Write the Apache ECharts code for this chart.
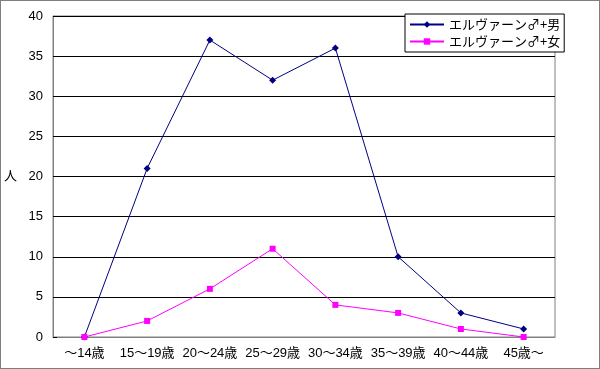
<!DOCTYPE html>
<html><head><meta charset="utf-8">
<script src="https://cdn.jsdelivr.net/npm/echarts@6/dist/echarts.min.js"></script>
<style>html,body{margin:0;padding:0;background:#fff}#c{width:600px;height:369px;box-sizing:border-box;border:1px solid #7f7f7f}</style>
</head><body><div id="c"></div>
<script>
const categories = ['～14歳','15～19歳','20～24歳','25～29歳','30～34歳','35～39歳','40～44歳','45歳～'];
const male = [0,21,37,32,36,10,3,1];
const female = [0,2,6,11,4,3,1,0];
const yTicks = [0,5,10,15,20,25,30,35,40];
const seriesNames = ['エルヴァーン♂+男','エルヴァーン♂+女'];
const FONT = "'Liberation Sans','Noto Sans CJK JP',sans-serif";
const chart = echarts.init(document.getElementById('c'));
chart.setOption({
  animation:false,
  grid:{left:52,top:15,right:44,bottom:31,show:true,borderColor:'#808080',borderWidth:1},
  legend:{
    orient:'vertical', left:404, top:13, padding:[4,4,4,4], itemGap:4,
    borderColor:'#000', borderWidth:1, backgroundColor:'#fff',
    itemWidth:34, itemHeight:8,
    textStyle:{fontFamily:"'Noto Sans CJK JP',sans-serif",fontSize:13,color:'#000'},
    data:seriesNames
  },
  xAxis:{type:'category',data:categories,boundaryGap:true,
    axisLine:{lineStyle:{color:'#808080'}},
    axisTick:{inside:true,length:4,lineStyle:{color:'#808080'}},
    axisLabel:{fontFamily:FONT,fontSize:13,color:'#000',margin:10,interval:0}},
  yAxis:{type:'value',min:0,max:40,interval:5,
    name:'人',nameLocation:'middle',nameRotate:0,nameGap:36,
    nameTextStyle:{fontFamily:FONT,fontSize:13,color:'#000'},
    axisLine:{show:true,lineStyle:{color:'#808080'}},
    axisTick:{show:true,inside:true,length:4,lineStyle:{color:'#000'}},
    axisLabel:{fontFamily:FONT,fontSize:13,color:'#000',margin:10},
    splitLine:{lineStyle:{color:'#000',width:1}}},
  series:[
    {name:seriesNames[0],type:'line',data:male,symbol:'diamond',symbolSize:7,
     itemStyle:{color:'#000080'},lineStyle:{color:'#000080',width:1}},
    {name:seriesNames[1],type:'line',data:female,symbol:'rect',symbolSize:6,
     itemStyle:{color:'#ff00ff'},lineStyle:{color:'#ff00ff',width:1}}
  ]
});
</script></body></html>
